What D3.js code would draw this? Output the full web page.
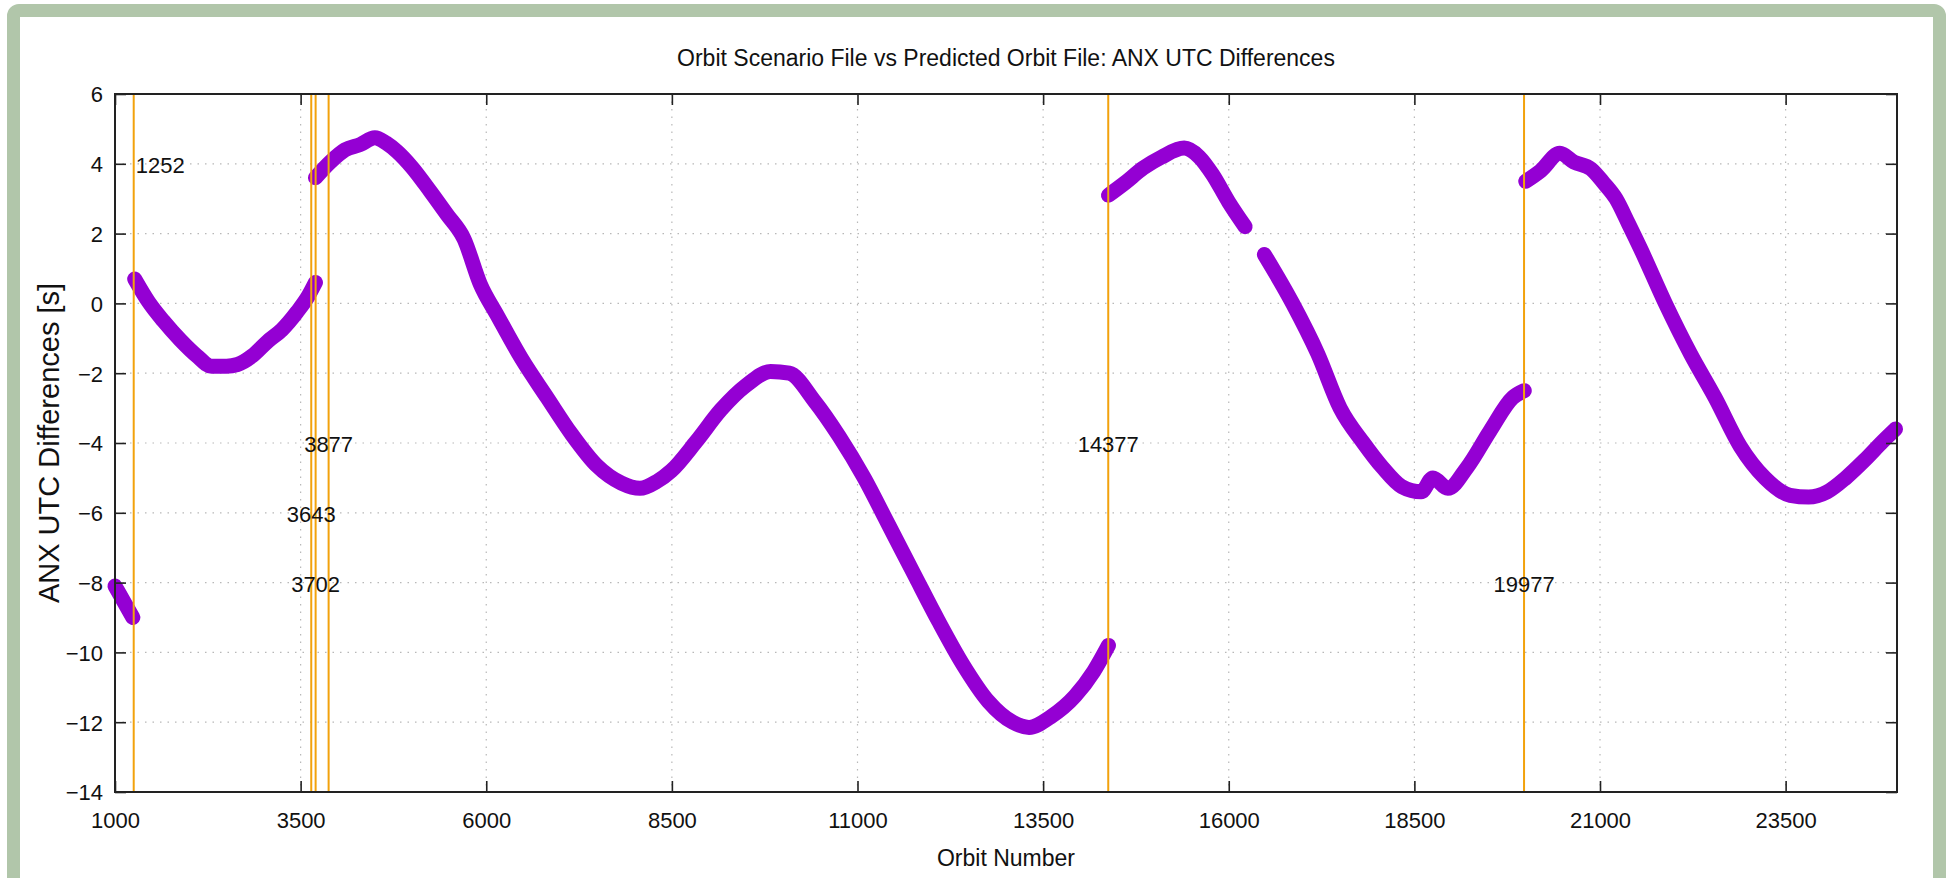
<!DOCTYPE html>
<html>
<head>
<meta charset="utf-8">
<script src="https://cdn.jsdelivr.net/npm/d3@7"></script>
<style>
  html, body { margin: 0; padding: 0; background: #ffffff; overflow: hidden; }
  #frame {
    position: absolute; left: 7px; top: 4px; width: 1913px; height: 869px;
    border: 13px solid #b1c6aa; border-radius: 12px; background: #ffffff;
  }
  svg { position: absolute; left: 0; top: 0; }
  text { font-family: "Liberation Sans", Arial, Helvetica, sans-serif; fill: #111; }
</style>
</head>
<body>
<div id="frame"></div>
<svg id="chart" width="1949" height="878"></svg>
<script>
// ---------------- data ----------------
const titleText = "Orbit Scenario File vs Predicted Orbit File: ANX UTC Differences";
const xLabelText = "Orbit Number";
const yLabelText = "ANX UTC Differences [s]";

const xTicks = [1000, 3500, 6000, 8500, 11000, 13500, 16000, 18500, 21000, 23500];
const yTicks = [-14, -12, -10, -8, -6, -4, -2, 0, 2, 4, 6];
const xDomain = [1000, 25000];
const yDomain = [-14, 6];

// ANX UTC differences [s] per orbit, one array per continuous segment
const seg1 = [[1000,-8.1],[1080,-8.4],[1160,-8.7],[1240,-9.0]];
const seg2 = [[1265,0.7],[1450,0.05],[1650,-0.5],[1880,-1.05],[2100,-1.5],[2300,-1.8],[2500,-1.8],
              [2650,-1.75],[2850,-1.5],[3050,-1.1],[3250,-0.75],[3450,-0.25],[3600,0.2],[3700,0.6]];
const seg3 = [[3700,3.6],[3900,4.05],[4100,4.4],[4300,4.55],[4500,4.75],[4650,4.6],[4800,4.35],[5000,3.9],
              [5250,3.2],[5470,2.55],[5700,1.85],[5920,0.55],[6150,-0.35],[6480,-1.6],[6820,-2.7],
              [7150,-3.75],[7490,-4.65],[7820,-5.15],[8070,-5.3],[8300,-5.1],[8490,-4.8],[8830,-3.95],
              [9160,-3.05],[9500,-2.35],[9830,-1.95],[10080,-2.0],[10420,-2.8],[10750,-3.8],[11090,-5.0],
              [11420,-6.35],[11760,-7.75],[12090,-9.1],[12420,-10.35],[12760,-11.4],[13090,-12.0],
              [13310,-12.15],[13600,-11.85],[13930,-11.25],[14180,-10.55],[14380,-9.8]];
const seg4 = [[14380,3.1],[14600,3.45],[14850,3.88],[15100,4.2],[15400,4.45],[15600,4.2],[15780,3.7],
              [16000,2.9],[16220,2.2]];
const seg5 = [[16480,1.4],[16860,0.0],[17200,-1.45],[17500,-3.0],[17815,-4.0],[18070,-4.7],[18330,-5.25],
              [18590,-5.4],[18750,-5.0],[18950,-5.3],[19210,-4.7],[19520,-3.65],[19825,-2.7],[19980,-2.5]];
const seg6 = [[20000,3.5],[20200,3.8],[20460,4.3],[20650,4.05],[20880,3.85],[21050,3.45],[21215,3.0],
              [21380,2.3],[21550,1.55],[21880,0.0],[22220,-1.45],[22550,-2.7],[22890,-4.1],[23220,-5.0],
              [23560,-5.5],[23810,-5.55],[24060,-5.4],[24310,-5.0],[24560,-4.5],[24810,-3.95],[24980,-3.6]];
const segments = [seg1, seg2, seg3, seg4, seg5, seg6];

// event orbits (vertical markers) and the y value at which their label sits
const eventOrbits = [1252, 3643, 3702, 3877, 14377, 19977];
const eventLabelY = [4, -6, -8, -4, -4, -8];

// ---------------- layout ----------------
const svg = d3.select("#chart");
const plot = { left: 115, right: 1897, top: 94, bottom: 792 };
const x = d3.scaleLinear().domain(xDomain).range([plot.left, plot.right]);
const y = d3.scaleLinear().domain(yDomain).range([plot.bottom, plot.top]);

const purple = "#9400d3";
const orange = "#f2a20c";
const tickFont = 22;

// grid
const grid = svg.append("g");
grid.selectAll("line.gx").data(xTicks.filter(d => d > xDomain[0])).join("line")
  .attr("x1", d => x(d)).attr("x2", d => x(d))
  .attr("y1", plot.top).attr("y2", plot.bottom)
  .attr("stroke", "#b8b8b8").attr("stroke-width", 1.2).attr("stroke-dasharray", "1.5,6");
grid.selectAll("line.gy").data(yTicks.filter(d => d > yDomain[0] && d < yDomain[1])).join("line")
  .attr("y1", d => y(d)).attr("y2", d => y(d))
  .attr("x1", plot.left).attr("x2", plot.right)
  .attr("stroke", "#b8b8b8").attr("stroke-width", 1.2).attr("stroke-dasharray", "1.5,6");

// data
const line = d3.line().x(d => x(d[0])).y(d => y(d[1])).curve(d3.curveMonotoneX);
svg.append("g").selectAll("path").data(segments).join("path")
  .attr("d", line)
  .attr("fill", "none").attr("stroke", purple).attr("stroke-width", 15)
  .attr("stroke-linejoin", "round").attr("stroke-linecap", "round");

// event lines
svg.append("g").selectAll("line").data(eventOrbits).join("line")
  .attr("x1", d => x(d)).attr("x2", d => x(d))
  .attr("y1", plot.top).attr("y2", plot.bottom)
  .attr("stroke", orange).attr("stroke-width", 2);

// event labels
svg.append("g").selectAll("text").data(eventOrbits).join("text")
  .attr("x", (d, i) => i === 0 ? x(d) + 2 : x(d))
  .attr("y", (d, i) => y(eventLabelY[i]))
  .attr("dy", "0.42em")
  .attr("text-anchor", (d, i) => i === 0 ? "start" : "middle")
  .attr("font-size", tickFont)
  .text(d => d);

// axes (ticks inward on all sides)
const tickLen = 11;
const axG = svg.append("g");
axG.append("g").attr("transform", `translate(0,${plot.bottom})`)
  .call(d3.axisBottom(x).tickValues(xTicks).tickSize(-tickLen).tickPadding(20).tickFormat(d3.format("d")));
axG.append("g").attr("transform", `translate(0,${plot.top})`)
  .call(d3.axisTop(x).tickValues(xTicks).tickSize(-tickLen).tickFormat(""));
const yl = axG.append("g").attr("transform", `translate(${plot.left},0)`)
  .call(d3.axisLeft(y).tickValues(yTicks).tickSize(-tickLen).tickPadding(12).tickFormat(d3.format("d")));
axG.append("g").attr("transform", `translate(${plot.right},0)`)
  .call(d3.axisRight(y).tickValues(yTicks).tickSize(-tickLen).tickFormat(""));
axG.selectAll(".domain").remove();
axG.selectAll(".tick line").attr("stroke", "#222").attr("stroke-width", 1.6);
axG.selectAll(".tick text").attr("font-size", tickFont).attr("fill", "#111")
  .attr("font-family", "Liberation Sans, Arial, sans-serif");
yl.selectAll(".tick text").attr("dy", "0.36em");

// frame
svg.append("rect").attr("x", plot.left).attr("y", plot.top)
  .attr("width", plot.right - plot.left).attr("height", plot.bottom - plot.top)
  .attr("fill", "none").attr("stroke", "#222").attr("stroke-width", 2);

// titles
svg.append("text").attr("x", (plot.left + plot.right) / 2).attr("y", 66)
  .attr("text-anchor", "middle").attr("font-size", 23).text(titleText);
svg.append("text").attr("x", (plot.left + plot.right) / 2).attr("y", 866)
  .attr("text-anchor", "middle").attr("font-size", 23).text(xLabelText);
svg.append("text").attr("transform", `translate(59,${(plot.top + plot.bottom) / 2}) rotate(-90)`)
  .attr("text-anchor", "middle").attr("font-size", 29).text(yLabelText);
</script>
</body>
</html>
